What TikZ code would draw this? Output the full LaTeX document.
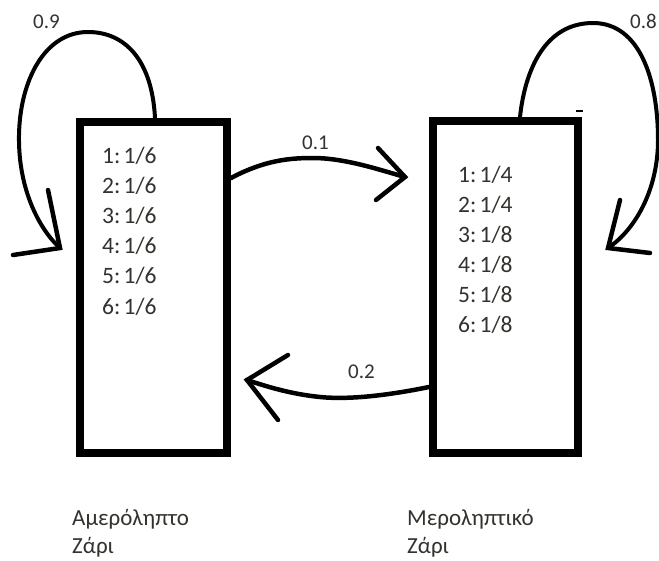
\documentclass[tikz,border=0pt]{standalone}
\usepackage{fontspec}
\setmainfont{Carlito}
\usetikzlibrary{calc}
\definecolor{txt}{RGB}{50,50,46}
\tikzset{
  box/.style={draw, line width=8pt, rectangle, inner sep=0pt, outer sep=0pt},
  curve/.style={line width=4pt, line cap=round},
  arm/.style={line width=4.5pt, line cap=round},
  lbl/.style={text=txt, font=\fontsize{21}{25}\selectfont, inner sep=0pt, anchor=base west},
  item/.style={text=txt, font=\fontsize{23.5}{28}\selectfont, inner sep=0pt, anchor=base west},
  dicename/.style={text=txt, font=\fontsize{23}{28}\selectfont, inner sep=0pt, anchor=base west}
}
\begin{document}
\begin{tikzpicture}[x=1pt,y=-1pt]
\useasboundingbox (0,0) rectangle (659,560);
\fill[white] (0,0) rectangle (659,560);

% boxes
\node[box, minimum width=147pt, minimum height=331pt] (L) at (153.5,287.5) {};
\node[box, minimum width=145pt, minimum height=332pt] (R) at (505.5,287) {};

% probability lists
\foreach \v [count=\k] in {1/6,1/6,1/6,1/6,1/6,1/6}
  \node[item] (a\k) at (102,{163+30.2*(\k-1)}) {\k:\hspace{0.14em}\v};
\foreach \v [count=\k] in {1/4,1/4,1/8,1/8,1/8,1/8}
  \node[item] (b\k) at (458,{182+30*(\k-1)}) {\k:\hspace{0.14em}\v};

% names
\node[dicename] (nL1) at (72,525) {Αμερόληπτο};
\node[dicename] (nL2) at (72,553) {Ζάρι};
\node[dicename] (nR1) at (407,525) {Μεροληπτικό};
\node[dicename] (nR2) at (407,553) {Ζάρι};

% left self loop
\coordinate (Ls) at ($(L.north)+(1.5,-4)$);
\coordinate (Lt) at (60,248);
\draw[curve] (Ls) .. controls (152,60) and (125,32) .. (88,32)
  .. controls (45,32) and (20,80) .. (19,135)
  .. controls (18,190) and (40,230) .. (Lt);
\draw[arm] (48,190) -- (Lt) -- (13,255);
\node[lbl] (p09) at (33,28) {0.9};

% right self loop
\coordinate (Rs) at ($(R.north)+(14.5,-4)$);
\coordinate (Rt) at (608,248);
\draw[curve] (Rs) .. controls (525,70) and (545,23) .. (593,23)
  .. controls (640,23) and (658,80) .. (658,140)
  .. controls (658,190) and (635,230) .. (Rt);
\draw[arm] (620,200) -- (Rt) -- (650,253);
\draw[line width=2pt] (576,111) -- (583,111);
\node[lbl] (p08) at (630,28) {0.8};

% L -> R
\coordinate (As) at ($(L.north east)+(4,56)$);
\coordinate (At) at (405,177);
\draw[curve, line width=4.5pt] (As) .. controls (265,160) and (290,158) .. (313,158)
  .. controls (345,158) and (380,170) .. (At);
\draw[arm] (378,148) -- (At) -- (376,200);
\node[lbl] (p01) at (302,149) {0.1};

% R -> L
\coordinate (Bs) at ($(R.north west)+(-4,266)$);
\coordinate (Bt) at (247,380);
\draw[curve, line width=4.5pt] (Bs) .. controls (390,395) and (350,400) .. (320,397)
  .. controls (290,394) and (265,386) .. (Bt);
\draw[arm] (288,355) -- (Bt) -- (278,420);
\node[lbl] (p02) at (348,378) {0.2};
\end{tikzpicture}
\end{document}
